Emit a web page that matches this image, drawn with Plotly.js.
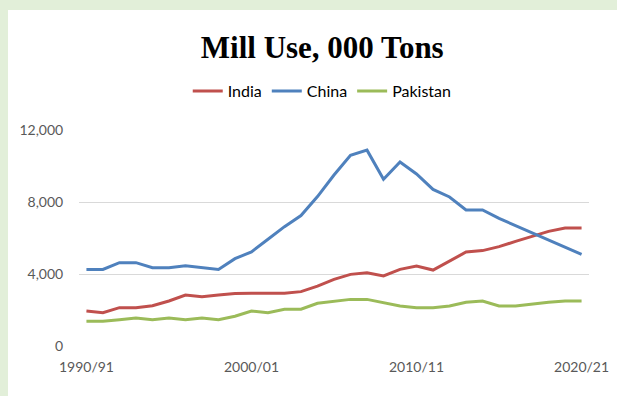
<!DOCTYPE html>
<html>
<head>
<meta charset="utf-8">
<script src="https://cdn.plot.ly/plotly-3.0.1.min.js"></script>
<style>
  html, body { margin: 0; padding: 0; background: #e2efd9; width: 617px; height: 396px; overflow: hidden; }
  #chart { position: absolute; left: 8px; top: 10px; width: 609px; height: 386px; background: #ffffff; }
</style>
</head>
<body>
<div id="chart"></div>
<script>
const seasons = ["1990/91","1991/92","1992/93","1993/94","1994/95","1995/96","1996/97","1997/98","1998/99","1999/00",
  "2000/01","2001/02","2002/03","2003/04","2004/05","2005/06","2006/07","2007/08","2008/09","2009/10",
  "2010/11","2011/12","2012/13","2013/14","2014/15","2015/16","2016/17","2017/18","2018/19","2019/20","2020/21"];

const india = [1940,1850,2130,2130,2240,2500,2830,2740,2830,2910,
  2930,2930,2930,3020,3330,3700,3980,4070,3890,4260,
  4440,4220,4730,5220,5300,5520,5810,6110,6370,6560,6560];

const china = [4250,4250,4630,4630,4350,4350,4460,4350,4250,4850,
  5230,5930,6630,7250,8300,9500,10600,10880,9260,10220,
  9560,8700,8280,7560,7560,7090,6690,6260,5850,5460,5090];

const pakistan = [1370,1370,1460,1550,1460,1550,1460,1550,1460,1650,
  1940,1850,2040,2040,2370,2480,2590,2590,2410,2220,
  2130,2130,2220,2430,2500,2220,2220,2330,2430,2500,2500];

const xTicks = ["1990/91","2000/01","2010/11","2020/21"];
const yTicks = [0, 4000, 8000, 12000];

const traces = [
  {name: "India", x: seasons, y: india, color: "#c0504d"},
  {name: "China", x: seasons, y: china, color: "#4f81bd"},
  {name: "Pakistan", x: seasons, y: pakistan, color: "#9bbb59"}
].map(s => ({
  type: "scatter", mode: "lines", name: s.name, x: s.x, y: s.y,
  line: {color: s.color, width: 3}
}));

const tickFont = {family: "Lato, 'Open Sans', sans-serif", size: 14, color: "#595959"};

const layout = {
  width: 609, height: 386,
  paper_bgcolor: "#ffffff", plot_bgcolor: "#ffffff",
  margin: {l: 71, r: 28, t: 120, b: 50},
  title: {
    text: "<b>Mill Use, 000 Tons</b>",
    font: {family: "'Liberation Serif', 'DejaVu Serif', serif", size: 31, color: "#000000"},
    xref: "container", x: 0.516, xanchor: "center",
    yref: "container", y: 0.905, yanchor: "middle"
  },
  showlegend: true,
  legend: {
    orientation: "h", xref: "container", x: 0.516, xanchor: "center",
    yref: "container", y: 0.79, yanchor: "middle",
    font: {family: "Lato, 'Open Sans', sans-serif", size: 16, color: "#000000"},
    itemwidth: 30, tracegroupgap: 0
  },
  xaxis: {
    type: "category",
    range: [-0.45, 30.45],
    tickmode: "array", tickvals: xTicks, ticktext: xTicks,
    showgrid: false, zeroline: false, showline: false,
    ticks: "outside", ticklen: 8, tickcolor: "rgba(0,0,0,0)",
    tickfont: tickFont
  },
  yaxis: {
    range: [0, 12000],
    tickmode: "array", tickvals: yTicks,
    tickformat: ",d",
    showgrid: true, gridcolor: "#d9d9d9", gridwidth: 1,
    zeroline: false, showline: false,
    ticks: "outside", ticklen: 12, tickcolor: "rgba(0,0,0,0)",
    tickfont: tickFont
  }
};

Plotly.newPlot("chart", traces, layout, {displayModeBar: false, staticPlot: true});
</script>
</body>
</html>
